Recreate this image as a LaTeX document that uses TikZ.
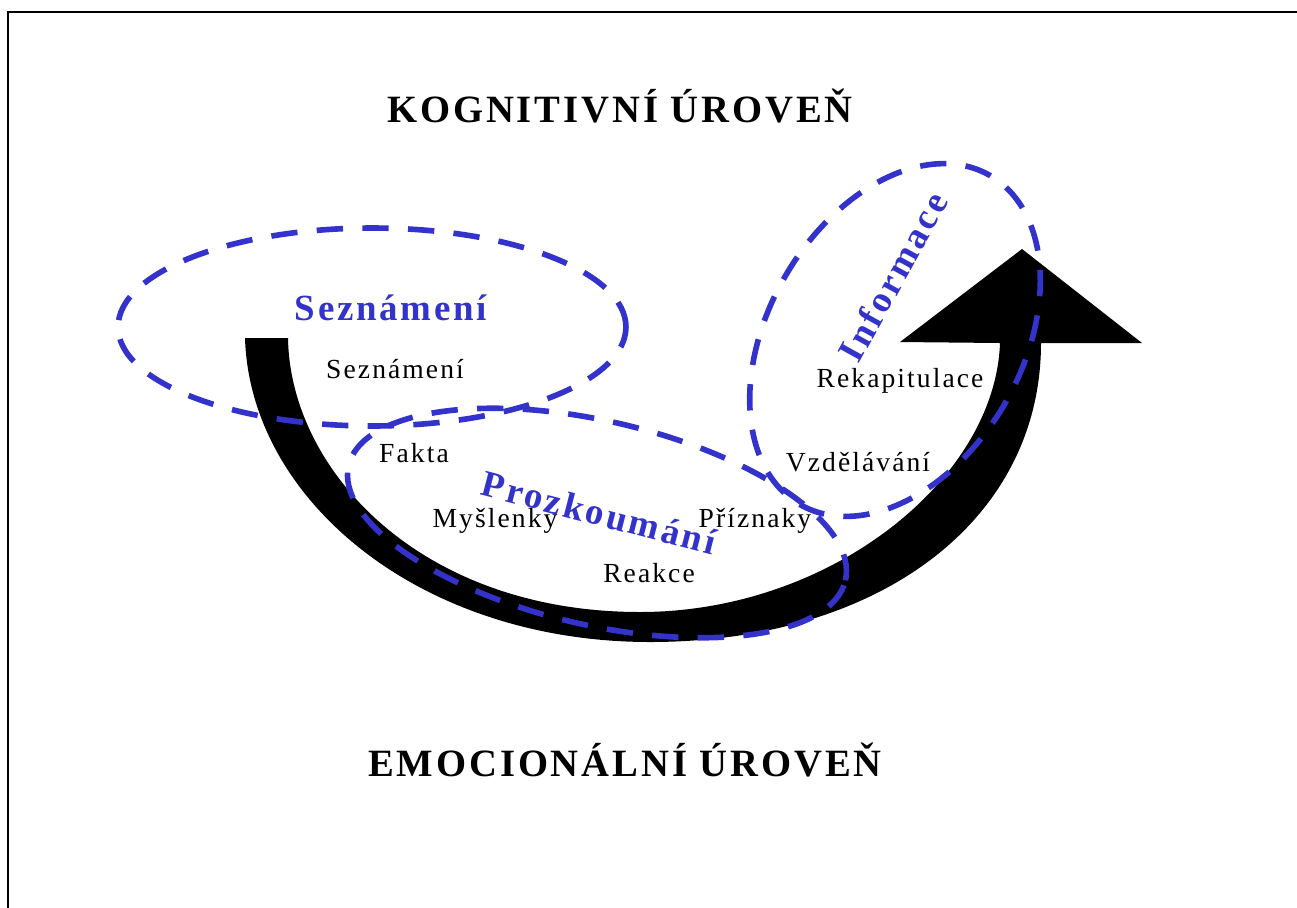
\documentclass[tikz,border=0pt]{standalone}
\usepackage{fontspec}
\newfontfamily\spaced{Liberation Serif}[LetterSpace=7.5]
\definecolor{phaseblue}{RGB}{51,51,204}
\usetikzlibrary{shapes.geometric}

\begin{document}
\begin{tikzpicture}[x=0.02cm, y=-0.02cm,
  level/.style={font=\spaced\bfseries\fontsize{22}{24}\selectfont, anchor=base},
  phase/.style={font=\spaced\bfseries\fontsize{21}{24}\selectfont, text=phaseblue, anchor=base},
  item/.style={font=\spaced\fontsize{15.7}{18}\selectfont, anchor=base},
  zone/.style={ellipse, draw=phaseblue, line width=3.2pt, dash pattern=on 15pt off 11pt, inner sep=0pt}]
  \useasboundingbox (0,0) rectangle (1297,907);
  \draw[line width=1.2pt, line join=miter] (8.3,930) -- (8.3,12) -- (1320,12);

  % the big curved arrow
  \fill (245,338) .. controls (250,500) and (420,642) .. (650,642)
    .. controls (880,642) and (1041,520) .. (1041,343)
    -- (1142,343) -- (1022,249) -- (900,342) -- (1000,343)
    .. controls (995,480) and (830,612) .. (640,612)
    .. controls (420,612) and (290,470) .. (288,338) -- cycle;

  % the three phases
  \node[zone, minimum width=10.16cm, minimum height=3.96cm] (sezn) at (372,327) {};
  \node[zone, minimum width=10.2cm, minimum height=4.08cm, rotate=-13] (prozk) at (597,523) {};
  \node[zone, minimum width=7.6cm, minimum height=5.08cm, rotate=60] (inform) at (895,340) {};

  \node[level] (kog) at (620,122) {KOGNITIVNÍ ÚROVEŇ};
  \node[level] (emo) at (625,776) {EMOCIONÁLNÍ ÚROVEŇ};

  \node[phase] (sezn-t) at (391,320) {Seznámení};
  \node[phase, rotate=-14.5] (prozk-t) at (596,525) {Prozkoumání};
  \node[phase, rotate=61] (inform-t) at (904,283) {Informace};

  \node[item] (seznameni) at (395,378) {Seznámení};
  \node[item] (fakta) at (414,462) {Fakta};
  \node[item] (myslenky) at (495,527) {Myšlenky};
  \node[item] (priznaky) at (755,527) {Příznaky};
  \node[item] (reakce) at (649,582) {Reakce};
  \node[item] (rekap) at (900,387) {Rekapitulace};
  \node[item] (vzdel) at (858,471) {Vzdělávání};
\end{tikzpicture}
\end{document}
